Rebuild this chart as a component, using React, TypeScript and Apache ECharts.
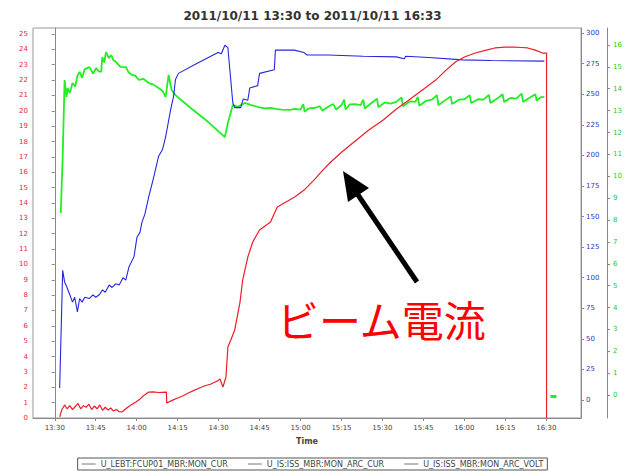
import React, { useEffect, useRef } from "react";
import * as echarts from "echarts";

const titleText = "2011/10/11 13:30 to 2011/10/11 16:33";
const seriesNames = [
  "U_LEBT:FCUP01_MBR:MON_CUR",
  "U_IS:ISS_MBR:MON_ARC_CUR",
  "U_IS:ISS_MBR:MON_ARC_VOLT",
];
// x in minutes after 13:30
const xTickValues = [0, 15, 30, 45, 60, 75, 90, 105, 120, 135, 150, 165, 180];
const xTickLabels = ["13:30", "13:45", "14:00", "14:15", "14:30", "14:45", "15:00", "15:15", "15:30", "15:45", "16:00", "16:15", "16:30"];
const leftTicks = [0, 1, 2, 3, 4, 5, 6, 7, 8, 9, 10, 11, 12, 13, 14, 15, 16, 17, 18, 19, 20, 21, 22, 23, 24, 25];
const blueTicks = [0, 25, 50, 75, 100, 125, 150, 175, 200, 225, 250, 275, 300];
const greenTicks = [0, 1, 2, 3, 4, 5, 6, 7, 8, 9, 10, 11, 12, 13, 14, 15, 16];

const redPoints: [number, number][] = [
  [1.8, 0.07], [2.5, 0.5], [3.6, 0.85], [4.5, 0.6], [5.5, 0.8], [6.5, 0.55], [7.5, 0.75], [8.5, 0.95],
  [9.5, 0.6], [10.5, 0.8], [11.5, 0.7], [12.5, 0.9], [13.5, 0.55], [14.5, 0.78], [15.5, 0.6], [16.5, 0.85],
  [17.5, 0.5], [18.5, 0.7], [19.5, 0.52], [20.5, 0.65], [21.5, 0.45], [22.5, 0.55], [23.5, 0.42], [24.6, 0.39],
  [26, 0.6], [27.5, 0.8], [29.7, 1.04], [31, 1.2], [32.5, 1.45], [34.4, 1.69], [36, 1.7], [38, 1.66],
  [40.9, 1.69], [41.0, 0.98], [43, 1.15], [45, 1.3], [47, 1.45], [48.9, 1.63], [51, 1.8], [53, 1.95],
  [55, 2.1], [57, 2.2], [58.7, 2.34], [59.5, 2.4], [60.5, 2.54], [61.6, 2.02], [62.7, 2.67], [63.4, 4.62],
  [64.5, 5.1], [65.9, 5.73], [67.8, 7.49], [68.8, 8.98], [70.7, 10.48], [72.5, 11.46], [75.0, 12.24], [77, 12.5],
  [79.0, 12.76], [81.5, 13.74], [85, 14.1], [88, 14.4], [91.3, 14.84], [95, 15.5], [98, 16.1], [100.7, 16.6],
  [105, 17.3], [110.5, 18.1], [115, 18.75], [120.3, 19.4], [125, 20.1], [129.7, 20.7], [135, 21.4], [139.5, 22.0],
  [143, 22.6], [146.7, 23.18], [150, 23.5], [154.0, 23.76], [158, 23.95], [161.2, 24.09], [165, 24.15], [168.5, 24.15],
  [171, 24.12], [173.2, 24.09], [176, 23.95], [178.6, 23.76], [180.1, 23.76], [180.1, 0],
];

const bluePoints: [number, number][] = [
  [1.8, 9.8], [2.9, 106], [3.6, 96.5], [4.5, 92], [5.5, 86], [6.5, 80], [7.3, 84], [8.3, 72],
  [9.1, 83], [10, 80], [11, 84], [12.7, 83], [14, 86], [15, 84], [16.3, 86], [17.5, 90],
  [18.5, 88], [19.9, 94], [21, 92], [22.3, 95], [23.6, 94], [25, 100], [26, 98], [27.2, 109],
  [29.0, 117], [30.1, 133], [31.2, 137], [31.9, 145], [33, 152], [34.4, 166], [36, 180], [38.0, 199],
  [39.5, 205], [40.6, 215], [42.4, 237], [43.5, 248], [44.2, 262], [45.3, 267], [52, 275], [59.8, 284],
  [61, 283], [62.3, 290], [63.4, 288], [65.2, 243], [65.9, 239], [68.1, 239], [69, 246], [70.7, 245],
  [71.4, 255], [74.3, 257], [75.0, 267], [80.4, 270], [80.8, 286], [87.7, 286], [91.3, 284], [92.4, 282],
  [100, 282], [113, 281], [125, 280.5], [128, 279], [128.5, 281], [137, 280], [149.3, 278], [160, 277.5],
  [179.3, 277],
];

const greenPoints: [number, number][] = [
  [2.2, 8.32], [2.9, 10.88], [3.6, 14.4], [4.3, 13.62], [4.7, 14.03], [5.5, 13.8], [6.5, 14.26], [7.5, 14.1],
  [8.3, 14.6], [9.1, 14.77], [10, 14.5], [11, 14.9], [12.7, 14.99], [14, 14.7], [15.2, 14.95], [16, 14.8],
  [17.0, 14.77], [17.4, 15.45], [18.1, 15.2], [18.8, 15.68], [19.8, 15.4], [20.7, 15.54], [21.5, 15.3], [22.5, 15.22],
  [24, 15.0], [26.1, 14.99], [27, 14.75], [28.3, 14.63], [29.5, 14.6], [30.8, 14.4], [32.5, 14.45], [34.4, 14.26],
  [36, 14.2], [38.0, 14.03], [39.5, 13.9], [40.6, 13.62], [41.7, 14.63], [42.8, 13.94], [44.2, 13.71], [50, 13.1],
  [56, 12.5], [62.3, 11.79], [63.4, 12.43], [65.2, 13.26], [67.0, 13.17], [69.6, 13.35], [71.7, 13.26], [75, 13.15],
  [77, 13.1], [79, 13.12], [81, 13.08], [83, 13.05], [86.2, 13.03], [88, 13.08], [90, 13.05], [91, 13.3],
  [91.5, 12.95], [93, 13.1], [95, 13.12], [97, 13.2], [98, 13.0], [100.7, 13.22], [102, 13.3], [103, 13.05],
  [105, 13.25], [106, 13.5], [106.5, 13.05], [108, 13.28], [110, 13.3], [112, 13.25], [113, 13.5], [113.5, 13.1],
  [116, 13.35], [118, 13.55], [118.5, 13.15], [121, 13.38], [123, 13.32], [125, 13.4], [127, 13.6], [127.5, 13.2],
  [130, 13.42], [132, 13.4], [133, 13.62], [133.5, 13.22], [136, 13.45], [138, 13.5], [140, 13.7], [140.5, 13.25],
  [143, 13.48], [145, 13.65], [145.5, 13.3], [148, 13.5], [150, 13.52], [152, 13.7], [152.5, 13.35], [155, 13.52],
  [157, 13.5], [159, 13.72], [159.5, 13.35], [162, 13.55], [164, 13.75], [164.5, 13.4], [167, 13.58], [169, 13.55],
  [171, 13.78], [171.5, 13.4], [174, 13.6], [176, 13.75], [176.5, 13.45], [178, 13.62], [179.3, 13.62],
];
const greenTail: [number, number][] = [
  [181.5, -0.1], [183.5, -0.1], [183.5, -0.04], [181.5, -0.04],
];

const annotationText = "ビーム電流";

export default function App() {
  const ref = useRef<HTMLDivElement>(null);
  useEffect(() => {
    if (!ref.current) return;
    const chart = echarts.init(ref.current, null, { renderer: "svg" });
    const axisFont = "DejaVu Sans";
    const greenData: any[] = [...greenPoints, [180.5, "-"], ...greenTail];
    chart.setOption({
      animation: false,
      backgroundColor: "#ffffff",
      title: {
        text: titleText,
        left: "center",
        top: 5,
        textStyle: { fontSize: 12, fontWeight: "bold", color: "#333", fontFamily: axisFont },
      },
      grid: {
        left: 33,
        right: 38,
        top: 28,
        bottom: 53,
        show: true,
        borderColor: "#999",
        borderWidth: 1,
      },
      legend: {
        bottom: 1,
        left: "center",
        icon: "rect",
        itemWidth: 14,
        itemHeight: 1,
        itemGap: 20,
        padding: [2, 4],
        borderColor: "#555",
        borderWidth: 1,
        itemStyle: { color: "#777" },
        textStyle: { fontSize: 8, color: "#444", fontFamily: axisFont },
        data: seriesNames,
      },
      xAxis: {
        type: "value",
        min: -7.97,
        max: 192.75,
        name: "Time",
        nameLocation: "middle",
        nameGap: 19,
        nameTextStyle: { fontSize: 8, fontWeight: "bold", color: "#444", fontFamily: axisFont },
        axisLine: { show: true, lineStyle: { color: "#888" } },
        axisTick: { show: true, customValues: xTickValues, length: 3, lineStyle: { color: "#888" } },
        axisLabel: {
          customValues: xTickValues,
          fontSize: 7,
          color: "#444",
          margin: 6,
          fontFamily: axisFont,
          formatter: (v: number) => xTickLabels[Math.round(v / 15)] ?? "",
        },
        splitLine: { show: false },
      },
      yAxis: [
        {
          type: "value",
          position: "left",
          min: 0,
          max: 25.39,
          axisLine: { show: true, lineStyle: { color: "#888" } },
          axisTick: { show: true, customValues: leftTicks, length: 3, lineStyle: { color: "#888" } },
          axisLabel: { customValues: leftTicks, fontSize: 7, color: "#ee2244", margin: 5, fontFamily: axisFont },
          splitLine: { show: false },
        },
        {
          type: "value",
          position: "right",
          min: -14.71,
          max: 304.09,
          axisLine: { show: true, lineStyle: { color: "#888" } },
          axisTick: { show: true, customValues: blueTicks, length: 3, lineStyle: { color: "#888" } },
          axisLabel: { customValues: blueTicks, fontSize: 7, color: "#3333bb", margin: 5, fontFamily: axisFont },
          splitLine: { show: false },
        },
        {
          type: "value",
          position: "right",
          offset: 26,
          min: -1.051,
          max: 16.777,
          axisLine: { show: true, lineStyle: { color: "#888" } },
          axisTick: { show: true, customValues: greenTicks, length: 3, lineStyle: { color: "#888" } },
          axisLabel: { customValues: greenTicks, fontSize: 7, color: "#22cc22", margin: 6, fontFamily: axisFont },
          splitLine: { show: false },
        },
      ],
      series: [
        {
          name: seriesNames[2],
          type: "line",
          yAxisIndex: 2,
          data: greenData,
          symbol: "none",
          connectNulls: false,
          lineStyle: { color: "#22ee22", width: 1.8 },
          itemStyle: { color: "#22ee22" },
          z: 2,
        },
        {
          name: seriesNames[1],
          type: "line",
          yAxisIndex: 1,
          data: bluePoints,
          symbol: "none",
          lineStyle: { color: "#2626dd", width: 1.1 },
          itemStyle: { color: "#2626dd" },
          z: 3,
        },
        {
          name: seriesNames[0],
          type: "line",
          yAxisIndex: 0,
          data: redPoints,
          symbol: "none",
          lineStyle: { color: "#ee1c2a", width: 1.2 },
          itemStyle: { color: "#ee1c2a" },
          z: 4,
        },
      ],
      graphic: [
        {
          type: "line",
          shape: { x1: 417, y1: 282, x2: 356, y2: 192 },
          style: { stroke: "#000", lineWidth: 5 },
          z: 100,
        },
        {
          type: "polygon",
          shape: { points: [[343, 171], [369, 188], [348, 202]] },
          style: { fill: "#000" },
          z: 100,
        },
        {
          type: "text",
          x: 277,
          y: 318,
          style: {
            text: annotationText,
            fontSize: 42,
            fill: "#ff0000",
            fontFamily: "Noto Sans CJK JP",
            verticalAlign: "middle",
            align: "left",
          },
          z: 100,
        },
      ],
    });
    return () => chart.dispose();
  }, []);
  return (
    <div
      ref={ref}
      style={{ position: "absolute", left: 0, top: 0, width: 625, height: 471 }}
    />
  );
}
